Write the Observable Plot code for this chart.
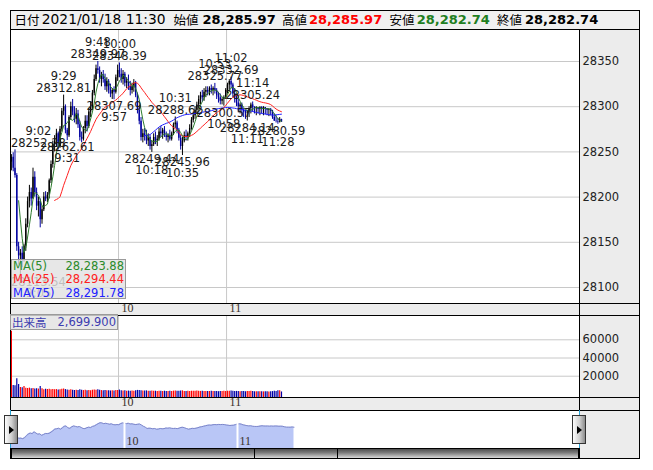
<!DOCTYPE html>
<html><head><meta charset="utf-8">
<script src="https://cdn.jsdelivr.net/npm/d3@7"></script>
<script src="https://cdn.jsdelivr.net/npm/@observablehq/plot@0.6"></script>
<style>
body{margin:0;background:#fff;}
#root{position:relative;width:653px;height:470px;overflow:hidden;font-family:"DejaVu Sans","Noto Sans CJK JP",sans-serif;}
.a{position:absolute;box-sizing:border-box;}
</style></head><body><div id="root"></div>
<script>
// ---------- data (1-minute bars, 9:00 .. 11:30) ----------
const firstOpen = 28238.68;
const closes = [
28244,28232,28224,28145,28135,28138,28130,28146,28170,28195,
28205,28198,28222,28205,28190,28195,28175,28186,28200,28198,
28202,28218,28236,28258,28262,28270,28256,28275,28295,28300,
28274,28268,28288,28300,28294,28286,28292,28280,28266,28264,
28276,28284,28278,28294,28300,28315,28330,28342,28340,28330,
28335,28330,28322,28328,28318,28314,28318,28316,28332,28340,
28336,28330,28336,28326,28328,28322,28318,28322,28326,28312,
28296,28284,28266,28270,28268,28262,28266,28256,28258,28266,
28262,28264,28272,28270,28274,28268,28266,28268,28264,28270,
28280,28282,28274,28265,28256,28262,28268,28266,28270,28276,
28285,28290,28296,28302,28308,28312,28310,28316,28318,28316,
28320,28318,28320,28318,28312,28310,28306,28308,28310,28318,
28324,28328,28324,28314,28310,28304,28300,28302,28296,28294,
28293,28294,28298,28302,28299,28298,28299,28297,28299,28297,
28299,28298,28296,28297,28295,28288,28284,28283.7,28283,28285.97,
28282.74];
const highs = [
28247,28249,28252.28,28226,28150,28142,28145,28148,28176,28200,
28213,28210,28232,28228,28210,28200,28198,28190,28205,28206,
28205,28220,28240,28262,28268,28275,28272,28278,28298,28312.81,
28302,28276,28290,28305,28308,28300,28298,28296,28284,28272,
28278,28290,28290,28298,28305,28318,28335,28346,28349.97,28344,
28338,28340,28336,28332,28330,28325,28320,28322,28335,28346,
28348.39,28342,28340,28338,28332,28335,28328,28326,28330,28328,
28315,28300,28288,28275,28276,28274,28270,28268,28262,28270,
28272,28268,28276,28278,28276,28278,28272,28270,28274,28272,
28282,28288.62,28284,28276,28268,28266,28272,28274,28272,28280,
28288,28294,28300,28305,28312,28316,28318,28320,28322,28322,
28322,28324,28322,28325.77,28320,28316,28314,28310,28312,28320,
28326,28330,28332.69,28326,28320,28314,28308,28304,28304,28298,
28296,28296,28300,28304,28305.24,28300,28300,28299,28300,28300,
28300,28299,28298,28298,28298,28296,28292,28290,28287,28288,
28285.97];
const lows = [
28229,28228,28221,28140,28125,28113.54,28122,28128,28140,28166,
28188,28190,28198,28200,28185,28178,28166,28170,28184,28195,
28194,28198,28215,28232,28250,28255,28252,28254,28272,28290,
28270,28262.61,28266,28285,28290,28282,28280,28276,28262,28260,
28262,28270,28272,28276,28288,28296,28312,28328,28336,28326,
28322,28326,28318,28316,28314,28310,28308,28307.69,28314,28328,
28332,28326,28324,28322,28320,28318,28312,28314,28316,28310,
28292,28280,28262,28260,28262,28258,28256,28252,28249.44,28256,
28258,28256,28262,28266,28264,28266,28262,28260,28262,28262,
28268,28276,28270,28262,28252,28245.96,28260,28262,28262,28266,
28274,28282,28286,28292,28298,28302,28305,28306,28310,28312,
28312,28314,28312,28314,28308,28304,28302,28302,28300.57,28308,
28314,28318,28320,28310,28304,28300,28294,28292,28290,28288,
28286,28284.14,28288,28292,28294,28292,28290,28292,28290,28292,
28290,28291,28290,28289,28290,28286,28284,28282,28280.59,28282,
28282.74];
const volumes = [
69400,9800,9600,17100,10900,7600,7400,8600,6800,6600,
6900,6200,6500,6000,6300,5900,8600,6100,5200,5600,
5400,5800,5100,5500,5000,5300,4900,5200,5600,5900,
5300,4800,4600,5000,4500,4300,4700,4400,5100,4600,
4200,4500,4100,4400,4000,4600,4900,4700,5200,4500,
4200,4000,4300,3900,4100,3800,4000,3700,4200,4400,
4800,4100,3800,3900,3600,3700,3500,3800,3600,3900,
4400,4200,4000,3800,3700,3900,3600,3500,3800,3400,
3500,3300,3600,3400,3200,3500,3300,3100,3400,3200,
3600,3800,3500,3400,3700,3900,3300,3200,3400,3300,
3500,3600,3400,3700,3500,3300,3400,3200,3300,3100,
3200,3400,3100,3300,3200,3000,3200,3100,3400,3300,
3500,3600,3700,3400,3200,3300,3100,3000,3200,3100,
2900,3300,3200,3400,3100,2900,3000,2800,3000,2900,
2800,3000,2900,2700,2900,3100,3600,3300,3900,4100,
2699.9];

const annMinutes = [2,5,29,31,48,57,60,78,91,95,113,118,122,131,134,148];
const annTimes = ["9:02","9:05","9:29","9:31","9:48","9:57","10:00","10:18","10:31","10:35","10:53","10:58","11:02","11:11","11:14","11:28"];
const annPrices = ["28252.28","28113.54","28312.81","28262.61","28349.97","28307.69","28348.39","28249.44","28288.62","28245.96","28325.77","28300.57","28332.69","28284.14","28305.24","28280.59"];
const annKinds = ["H","L","H","L","H","L","H","L","H","L","H","L","H","L","H","L"];

const hourTicks = [60,120];
const hourLabels = ["10","11"];
const priceTicks = [28100,28150,28200,28250,28300,28350];
const volumeTicks = [20000,40000,60000];

const maPeriods = [5,25,75];
const maNames = ["MA(5)","MA(25)","MA(75)"];
const maValues = ["28,283.88","28,294.44","28,291.78"];
const maColors = ["#2a8a2a","#ff2020","#2020ff"];
const volName = "出来高";
const volValue = "2,699.900";

const headerLabels = ["日付","始値","高値","安値","終値"];
const headerDate = "2021/01/18 11:30";
const headerValues = ["28,285.97","28,285.97","28,282.74","28,282.74"];

// ---------- derived ----------
const rows = closes.map((c,i)=>({m:i,o:i?closes[i-1]:firstOpen,h:highs[i],l:lows[i],c,v:volumes[i]}));
rows.forEach(d=>{d.up=d.c>=d.o; d.top=Math.max(d.h,d.o,d.c); d.bot=Math.min(d.l,d.o,d.c);});
function movingAverage(n){const out=[];for(let i=n-1;i<closes.length;i++)out.push({m:i,v:d3.mean(closes.slice(i-n+1,i+1))});return out;}

const root = document.getElementById("root");
function box(l,t,w,h,css){const d=document.createElement("div");d.className="a";d.style.cssText=`left:${l}px;top:${t}px;width:${w}px;height:${h}px;`+(css||"");root.appendChild(d);return d;}
function place(el,l,t){const w=box(l,t,653,el.getAttribute("height"),"");w.appendChild(el);return w;}

// backgrounds
box(10,10,630,449,"background:#fff;");
box(10,10,630,19,"background:#f0f0f0;");
box(579,29,61,274,"background:#ececec;");
box(10,303,630,12,"background:#ececec;");
box(579,315,61,82,"background:#ececec;");
box(10,397,630,13,"background:#ececec;");
box(579,410,61,49,"background:#ececec;");

const UP="#000000", DOWN="#0000a0";
const svgStyle={background:"transparent",overflow:"visible",fontFamily:"DejaVu Sans, Noto Sans CJK JP, sans-serif",color:"#222"};
const bandText={fontFamily:"Liberation Serif, serif",fontSize:12,fill:"#3a3028",textAnchor:"start",lineAnchor:"middle"};

// ---------- price panel ----------
const xDom=[-0.5,315.5], xR=[10,579];
const xPix=d3.scaleLinear(xDom,xR);
const annStyle={fontSize:11.5,fill:"#1a1a1a",textAnchor:"middle",lineAnchor:"middle",fontFamily:"DejaVu Sans"};
const annMarks = annMinutes.flatMap((m,i)=>{
  const px=xPix(m), dx=Math.max(0,10.5+27.4-px), hi=annKinds[i]==="H";
  const d=[{m,p:+annPrices[i]}];
  return [
    Plot.text(d,{x:"m",y:"p",text:()=>annPrices[i],dx,dy:hi?-7:7,...annStyle}),
    Plot.text(d,{x:"m",y:"p",text:()=>annTimes[i],dx,dy:hi?-19:18,...annStyle})
  ];
});
const pricePlot = Plot.plot({
  width:653,height:286,marginLeft:10,marginRight:74,marginTop:0,marginBottom:12,
  x:{domain:xDom,axis:null,label:null},
  y:{domain:[28082.3,28385.4],label:null},
  style:svgStyle,
  marks:[
    Plot.ruleY(priceTicks,{stroke:"#c8c8c8"}),
    Plot.ruleX(hourTicks,{x:d=>d-0.5,stroke:"#c8c8c8"}),
    Plot.ruleX(rows,{x:"m",y1:"bot",y2:"top",stroke:d=>d.up?UP:DOWN,strokeWidth:1}),
    Plot.ruleX(rows,{x:"m",y1:"o",y2:"c",stroke:d=>d.up?UP:DOWN,strokeWidth:1.4}),
    Plot.line(movingAverage(maPeriods[2]),{x:"m",y:"v",stroke:maColors[2],strokeWidth:1}),
    Plot.line(movingAverage(maPeriods[1]),{x:"m",y:"v",stroke:maColors[1],strokeWidth:1}),
    Plot.line(movingAverage(maPeriods[0]),{x:"m",y:"v",stroke:"#2e7d2e",strokeWidth:1}),
    ...annMarks,
    Plot.axisY(priceTicks,{anchor:"right",tickSize:0,tickPadding:3,tickFormat:d=>String(d),fontSize:11.5,fill:"#222"}),
    Plot.text(hourTicks,{x:d=>d-0.5,frameAnchor:"bottom",text:(d,i)=>hourLabels[i],dx:3,dy:4.8,...bandText})
  ]
});
place(pricePlot,0,29);

// ---------- volume panel ----------
const vDom=[-3400,86700];
const volPlot = Plot.plot({
  width:653,height:95,marginLeft:10,marginRight:74,marginTop:0,marginBottom:13,
  x:{domain:xDom,axis:null,label:null},
  y:{domain:vDom,label:null},
  style:svgStyle,
  marks:[
    Plot.ruleY(volumeTicks,{stroke:"#c8c8c8"}),
    Plot.ruleX(hourTicks,{x:d=>d-0.5,stroke:"#c8c8c8"}),
    Plot.ruleX(rows,{x:"m",y1:vDom[0],y2:"v",stroke:d=>d.up?"#ff0000":"#0000a8",strokeWidth:1.2}),
    Plot.axisY(volumeTicks,{anchor:"right",tickSize:0,tickPadding:3,tickFormat:d=>String(d),fontSize:11.5,fill:"#222"}),
    Plot.text(hourTicks,{x:d=>d-0.5,frameAnchor:"bottom",text:(d,i)=>hourLabels[i],dx:3,dy:4.8,...bandText})
  ]
});
place(volPlot,0,315);

// ---------- navigator ----------
const nDom=[28000,28505];
const navPlot = Plot.plot({
  width:653,height:38,marginLeft:11,marginRight:74,marginTop:0,marginBottom:0,
  x:{domain:[0,301.6],axis:null,label:null},
  y:{domain:nDom,axis:null,label:null},
  style:svgStyle,
  marks:[
    Plot.areaY(rows,{x:"m",y1:nDom[0],y2:"c",fill:"#b9c6f6"}),
    Plot.lineY(rows,{x:"m",y:"c",stroke:"#7d86c9",strokeWidth:1}),
    Plot.ruleX(hourTicks,{stroke:"#ffffff",strokeWidth:2}),
    Plot.text(hourTicks,{frameAnchor:"bottom",x:d=>d,text:(d,i)=>hourLabels[i],dx:2,dy:-7.8,...bandText})
  ]
});
place(navPlot,0,410);

// ---------- frame lines ----------
const L="background:#000;";
[29,303,315,397,410].forEach(y=>box(10,y,630,1,L));
box(579,29,1,381,L);
box(579,448,1,11,L);
box(10,10,630,449,"border:1px solid #000;");
box(10,410,1,38,"background:#29a3d6;");
box(579,410,1,38,"background:#29a3d6;");

// scrollbar
box(11,448,568,11,"background:linear-gradient(to bottom,#4e4e4e 0%,#7a7a7a 40%,#b8b8b8 80%,#dcdcdc 100%);border:1px solid #000;");
box(254,448,1,11,L);
box(337,448,1,11,L);

// navigator buttons
function btn(l){const b=box(l,415,14,29,"background:linear-gradient(to right,#fdfdfd,#cfcfcf 55%,#8c8c8c);border:1px solid #333;");
  const t=document.createElement("div");t.style.cssText="position:absolute;left:4px;top:10px;width:0;height:0;border-top:4px solid transparent;border-bottom:4px solid transparent;border-left:5px solid #000;";b.appendChild(t);}
btn(4); btn(572);

// header
const hdr=[[14.6,headerLabels[0],"cjk","#000"],[41.8,headerDate,"date","#000"],
 [173.6,headerLabels[1],"cjk","#000"],[202.5,headerValues[0],"val","#000"],
 [282,headerLabels[2],"cjk","#000"],[309,headerValues[1],"val","#ff0000"],
 [389.6,headerLabels[3],"cjk","#000"],[416.7,headerValues[2],"val","#1f7f1f"],
 [497,headerLabels[4],"cjk","#000"],[525,headerValues[3],"val","#000"]];
hdr.forEach(([x,t,k,c])=>{const s=box(x,10,120,19,"line-height:19px;white-space:nowrap;color:"+c+";"+
  (k==="cjk"?"font-family:'Noto Sans CJK JP';font-size:12.5px;":k==="date"?"font-family:'DejaVu Sans';font-size:13.8px;":"font-family:'DejaVu Sans';font-weight:bold;font-size:13px;"));
  s.style.width="auto"; s.textContent=t;});

// MA legend
const lg=box(11,259,115,40,"background:rgba(226,226,226,0.82);border:1px solid #9a9a9a;");
maNames.forEach((n,i)=>{
  const r=document.createElement("div");
  r.style.cssText=`position:absolute;left:1px;right:1px;top:${i*13.3}px;height:13px;line-height:13px;font-size:11.5px;color:${maColors[i]};font-family:'DejaVu Sans';`;
  r.innerHTML=`<span>${n}</span><span style="position:absolute;right:0">${maValues[i]}</span>`;
  lg.appendChild(r);
});
// volume legend
const vl=box(10,314,108,16,"background:rgba(226,226,226,0.82);border:1px solid #9a9a9a;");
vl.innerHTML=`<div style="position:absolute;left:1px;right:1px;top:0;line-height:14px;font-size:11.5px;color:#3c3cb0;"><span style="font-family:'Noto Sans CJK JP';font-size:11.5px">${volName}</span><span style="position:absolute;right:0;font-family:'DejaVu Sans'">${volValue}</span></div>`;
</script></body></html>
